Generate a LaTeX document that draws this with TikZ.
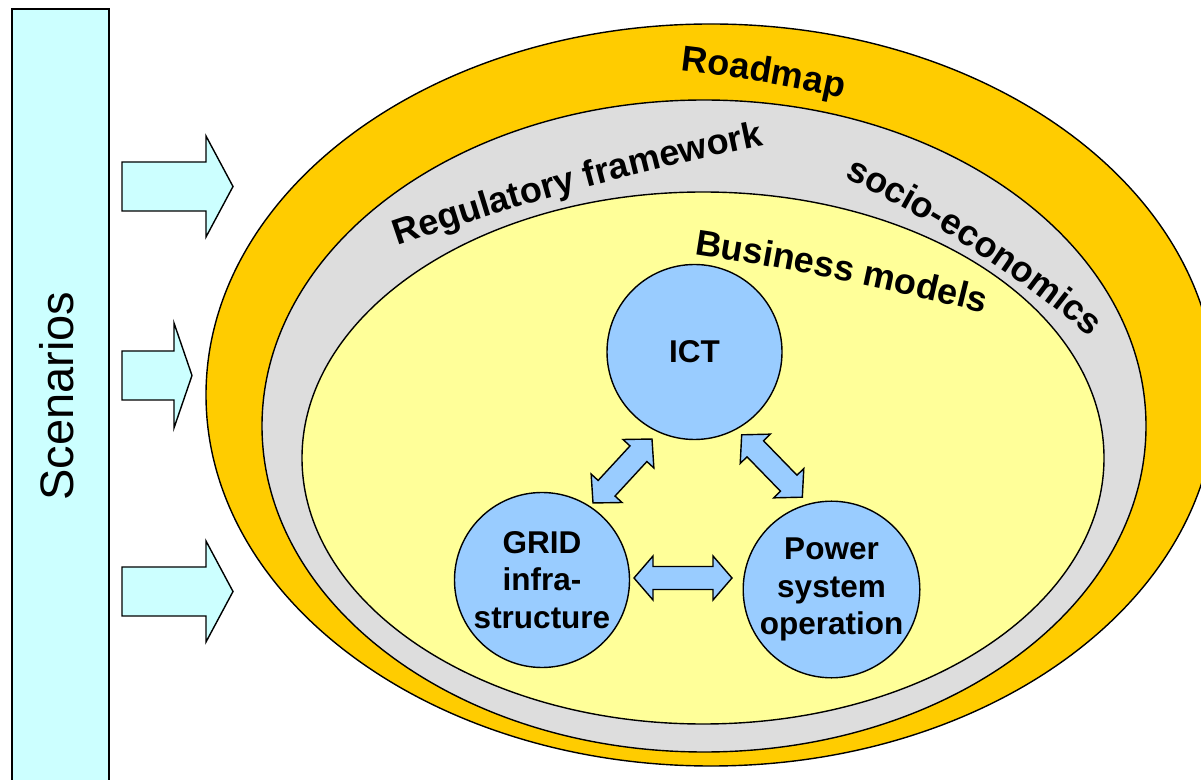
\documentclass[tikz,border=0pt]{standalone}
\usepackage{fontspec}
\setmainfont{Liberation Sans}
\usetikzlibrary{calc,decorations.text}
\definecolor{cyanbox}{HTML}{CCFFFF}
\definecolor{roadorange}{HTML}{FFCC00}
\definecolor{reggray}{HTML}{DDDDDD}
\definecolor{bizyellow}{HTML}{FFFF99}
\definecolor{techblue}{HTML}{99CCFF}
\newcommand\arcfont{\fontsize{36}{40}\selectfont\bfseries}
% #1 x, #2 y of baseline midpoint, #3 tangent angle, #4 radius, #5 half span, #6 text
\newcommand\arctext[6]{%
  \path[decorate,decoration={text along path,text align=center,text={|\arcfont|#6}}]
    ($(#1,#2)+({#3+90+#5}:#4)-({#3+90}:#4)$)
    arc[start angle={#3+90+#5},end angle={#3+90-#5},radius=#4];}
% right block arrow: #1 x0, #2 x1 (head base), #3 tip x, #4 yc, #5 shaft half, #6 head half
\newcommand\rblock[6]{%
  \draw[sarrow] (#1,#4-#5) -- (#2,#4-#5) -- (#2,#4-#6) -- (#3,#4) -- (#2,#4+#6)
    -- (#2,#4+#5) -- (#1,#4+#5) -- cycle;}
% double block arrow: #1 cx, #2 cy, #3 angle, #4 half length, #5 head length, #6 shaft half, #7 head half
\newcommand\dblock[7]{%
  \begin{scope}[shift={(#1,#2)},rotate=#3]
  \draw[darrow] (-#4,0) -- (-#4+#5,#7) -- (-#4+#5,#6) -- (#4-#5,#6) -- (#4-#5,#7)
    -- (#4,0) -- (#4-#5,-#7) -- (#4-#5,-#6) -- (-#4+#5,-#6) -- (-#4+#5,-#7) -- cycle;
  \end{scope}}
\begin{document}
\begin{tikzpicture}[x=1pt,y=1pt,
  outline/.style={draw=black,line width=1.4pt},
  techcircle/.style={circle,outline,fill=techblue,minimum size=175pt,inner sep=0pt,
    align=center,font=\fontsize{31.5}{37.5}\selectfont\bfseries},
  sarrow/.style={outline,fill=cyanbox,line join=miter},
  darrow/.style={outline,fill=techblue,line join=miter},
  scenbox/.style={outline,fill=cyanbox,minimum width=97pt,minimum height=790pt,inner sep=0pt}]
\useasboundingbox (0,0) rectangle (1201,779);
\fill[white] (0,0) rectangle (1201,779);

% Scenarios column
\node[scenbox] (scen) at (60.5,375) {};
\node[rotate=90,font=\fontsize{47}{52}\selectfont] (scentext) at (57,383) {Scenarios};

% block arrows
\rblock{122}{206}{233}{592.5}{24.5}{50.5}
\rblock{122}{174}{192}{403.5}{24.5}{52.5}
\rblock{122}{206}{233}{187.5}{24.5}{50.5}

% nested ellipses
\draw[outline,fill=roadorange] (711,384) ellipse [x radius=505,y radius=371];
\draw[outline,fill=reggray] (704,353) ellipse [x radius=442,y radius=326];
\draw[outline,fill=bizyellow] (703,321) ellipse [x radius=401,y radius=266];

% curved labels
\arctext{762}{697}{-9.6}{1500}{8}{Roadmap}
\arctext{579}{589.5}{15.3}{3000}{5}{Regulatory framework}
\arctext{972}{529.4}{-33}{1200}{14}{socio-economics}
\arctext{840}{499}{-11.5}{3000}{5}{Business models}

% circles
\node[techcircle] (ict) at (694.5,427) {ICT};
\node[techcircle] (grid) at (542,199) {GRID\\infra-\\structure};
\node[techcircle] (pow) at (831.5,189.5) {Power\\system\\operation};

% double arrows between circles
\dblock{622.5}{308}{47.3}{43.5}{20}{11.5}{21}
\dblock{772}{313}{-45.8}{43.5}{19.5}{11.5}{21}
\dblock{683}{201}{0}{49}{19}{11.5}{22}
\end{tikzpicture}
\end{document}
